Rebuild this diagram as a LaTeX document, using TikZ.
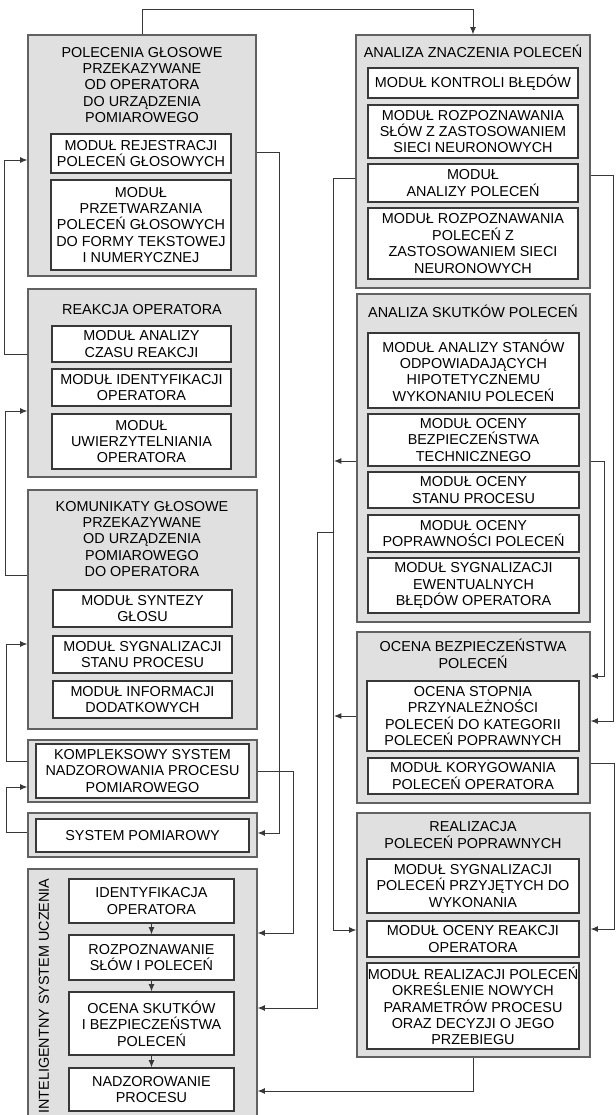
\documentclass[tikz,border=0pt]{standalone}
\usepackage{fontspec}
\setmainfont{Liberation Sans}
\usetikzlibrary{fit,arrows.meta}
\newcommand\lbl{\fontsize{10.8pt}{12.3pt}\selectfont}
\newcommand\ib[3]{\node[ibox, fit={#1}] (#2) {}; \node[ttl] at (#2.center) {#3};}
\begin{document}
\begin{tikzpicture}[x=0.75pt,y=-0.75pt,
  outer/.style={draw=black!62, line width=0.9pt, fill=black!12, inner sep=0pt},
  ibox/.style={draw=black!78, line width=0.9pt, fill=white, inner sep=0pt},
  ttl/.style={align=center, font=\lbl, inner sep=0pt},
  conn/.style={draw=black!78, line width=0.75pt},
  arr/.style={conn, -{Latex[length=5.5pt,width=4.5pt]}},
]
\useasboundingbox (0,0) rectangle (615,1115);

% ---------- left column ----------
\node[outer, fit={(28,35)(256,276)}] (A) {};
\node[ttl] (At) at (142,85) {POLECENIA GŁOSOWE\\PRZEKAZYWANE\\OD OPERATORA\\DO URZĄDZENIA\\POMIAROWEGO};
\ib{(51,134)(231,173)}{a1}{MODUŁ REJESTRACJI\\POLECEŃ GŁOSOWYCH}
\ib{(51,180)(231,270)}{a2}{MODUŁ\\PRZETWARZANIA\\POLECEŃ GŁOSOWYCH\\DO FORMY TEKSTOWEJ\\I NUMERYCZNEJ}

\node[outer, fit={(28,289)(256,477)}] (R) {};
\node[ttl] (Rt) at (142,310) {REAKCJA OPERATORA};
\ib{(52,326)(231,362)}{r1}{MODUŁ ANALIZY\\CZASU REAKCJI}
\ib{(52,369)(231,406)}{r2}{MODUŁ IDENTYFIKACJI\\OPERATORA}
\ib{(52,414)(231,469)}{r3}{MODUŁ\\UWIERZYTELNIANIA\\OPERATORA}

\node[outer, fit={(28,490)(257,729)}] (K) {};
\node[ttl] (Kt) at (142,539) {KOMUNIKATY GŁOSOWE\\PRZEKAZYWANE\\OD URZĄDZENIA\\POMIAROWEGO\\DO OPERATORA};
\ib{(53,590)(232,627)}{k1}{MODUŁ SYNTEZY\\GŁOSU}
\ib{(53,636)(232,673)}{k2}{MODUŁ SYGNALIZACJI\\STANU PROCESU}
\ib{(53,681)(232,718)}{k3}{MODUŁ INFORMACJI\\DODATKOWYCH}

\node[outer, fit={(28,740)(257,802)}] (KS) {};
\ib{(36,744)(249,798)}{KSi}{KOMPLEKSOWY SYSTEM\\NADZOROWANIA PROCESU\\POMIAROWEGO}

\node[outer, fit={(28,813)(257,857)}] (SP) {};
\ib{(36,819)(249,852)}{SPi}{SYSTEM POMIAROWY}

\node[outer, fit={(28,869)(257,1125)}] (ISU) {};
\node[ttl, rotate=90] (ISUt) at (44,996) {INTELIGENTNY SYSTEM UCZENIA};
\ib{(69,879)(234,923)}{i1}{IDENTYFIKACJA\\OPERATORA}
\ib{(69,935)(234,980)}{i2}{ROZPOZNAWANIE\\SŁÓW I POLECEŃ}
\ib{(69,992)(234,1055)}{i3}{OCENA SKUTKÓW\\I BEZPIECZEŃSTWA\\POLECEŃ}
\ib{(69,1068)(234,1111)}{i4}{NADZOROWANIE\\PROCESU}

% ---------- right column ----------
\node[outer, fit={(356,35)(590,288)}] (AZ) {};
\node[ttl] (AZt) at (473,51) {ANALIZA ZNACZENIA POLECEŃ};
\ib{(368,68)(578,98)}{z1}{MODUŁ KONTROLI BŁĘDÓW}
\ib{(368,105)(578,158)}{z2}{MODUŁ ROZPOZNAWANIA\\SŁÓW Z ZASTOSOWANIEM\\SIECI NEURONOWYCH}
\ib{(368,164)(578,202)}{z3}{MODUŁ\\ANALIZY POLECEŃ}
\ib{(368,208)(578,279)}{z4}{MODUŁ ROZPOZNAWANIA\\POLECEŃ Z\\ZASTOSOWANIEM SIECI\\NEURONOWYCH}

\node[outer, fit={(357,294)(590,622)}] (SK) {};
\node[ttl] (SKt) at (473,311) {ANALIZA SKUTKÓW POLECEŃ};
\ib{(368,333)(579,408)}{s1}{MODUŁ ANALIZY STANÓW\\ODPOWIADAJĄCYCH\\HIPOTETYCZNEMU\\WYKONANIU POLECEŃ}
\ib{(368,414)(579,466)}{s2}{MODUŁ OCENY\\BEZPIECZEŃSTWA\\TECHNICZNEGO}
\ib{(368,472)(579,508)}{s3}{MODUŁ OCENY\\STANU PROCESU}
\ib{(368,515)(579,552)}{s4}{MODUŁ OCENY\\POPRAWNOŚCI POLECEŃ}
\ib{(368,558)(579,613)}{s5}{MODUŁ SYGNALIZACJI\\EWENTUALNYCH\\BŁĘDÓW OPERATORA}

\node[outer, fit={(357,632)(590,803)}] (OB) {};
\node[ttl] (OBt) at (473,654) {OCENA BEZPIECZEŃSTWA\\POLECEŃ};
\ib{(367,681)(579,751)}{o1}{OCENA STOPNIA\\PRZYNALEŻNOŚCI\\POLECEŃ DO KATEGORII\\POLECEŃ POPRAWNYCH}
\ib{(368,758)(578,794)}{o2}{MODUŁ KORYGOWANIA\\POLECEŃ OPERATORA}

\node[outer, fit={(357,813)(590,1057)}] (RE) {};
\node[ttl] (REt) at (473,835) {REALIZACJA\\POLECEŃ POPRAWNYCH};
\ib{(367,859)(579,913)}{e1}{MODUŁ SYGNALIZACJI\\POLECEŃ PRZYJĘTYCH DO\\WYKONANIA}
\ib{(367,921)(579,957)}{e2}{MODUŁ OCENY REAKCJI\\OPERATORA}
\ib{(367,963)(579,1049)}{e3}{MODUŁ REALIZACJI POLECEŃ\\OKREŚLENIE NOWYCH\\PARAMETRÓW PROCESU\\ORAZ DECYZJI O JEGO\\PRZEBIEGU}

% ---------- connectors ----------
\draw[arr] (A.north) -- ++(0,-25) -| (AZ.north);
\draw[arr] (R.west |- 0,354) -- ++(-23,0) |- (A.west |- 0,160);
\draw[arr] (K.west |- 0,575) -- ++(-22,0) |- (R.west |- 0,411);
\draw[arr] (KS.west |- 0,761) -- ++(-21,0) |- (K.west |- 0,644);
\draw[arr] (SP.west |- 0,832) -- ++(-21,0) |- (KS.west |- 0,787);
\draw[arr] (A.east |- 0,152) -- ++(23,0) |- (SP.east |- 0,833);
\draw[arr] (KS.east |- 0,771) -- ++(36,0) |- (ISU.east |- 0,933);

\draw[arr] (i1.south) -- (i2.north);
\draw[arr] (i2.south) -- (i3.north);
\draw[arr] (i3.south) -- (i4.north);

\draw[arr] (AZ.west |- 0,178) -- ++(-22,0) |- (RE.west |- 0,930);
\coordinate (j1) at (334,461);
\coordinate (j2) at (334,716);
\coordinate (j3) at (334,532);
\draw[arr] (SK.west |- j1) -- (j1);
\draw[arr] (OB.west |- j2) -- (j2);
\draw[arr] (j3) -- ++(-17,0) |- (ISU.east |- 0,1008);
\draw[arr] (RE.south) |- (ISU.east |- 0,1091);

\draw[arr] (AZ.east |- 0,175) -- ++(23,0) |- (OB.east |- 0,721);
\draw[arr] (SK.east |- 0,461) -- ++(14,0) |- (OB.east |- 0,676);
\draw[arr] (OB.east |- 0,763) -- ++(24,0) |- (RE.east |- 0,929);
\end{tikzpicture}
\end{document}
